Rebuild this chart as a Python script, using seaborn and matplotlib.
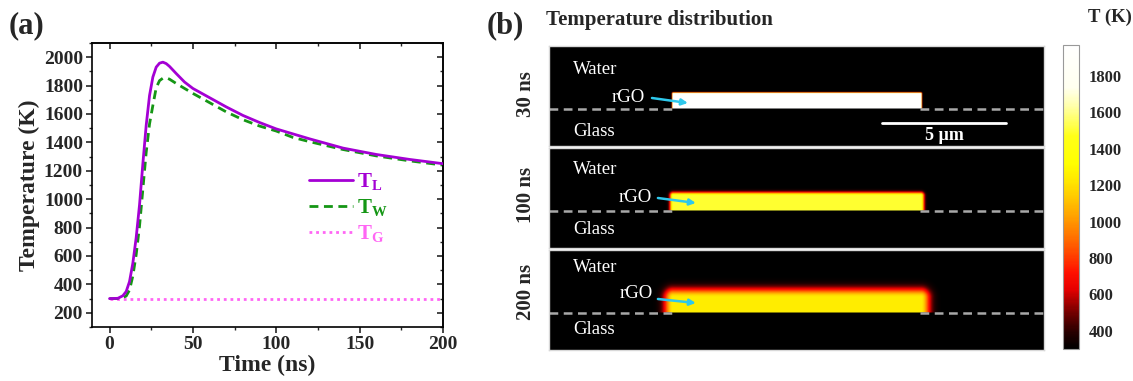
import numpy as np
import pandas as pd
import matplotlib
matplotlib.use("Agg")
import matplotlib.pyplot as plt
import seaborn as sns
from matplotlib.colors import LinearSegmentedColormap, Normalize
from matplotlib.ticker import MultipleLocator

# ---------------- data: panel (a) ----------------
time_ns = [0, 5, 8, 10, 12, 14, 16, 18, 20, 22, 24, 26, 28, 30, 32, 34, 36, 40, 45, 50,
           60, 70, 80, 90, 100, 110, 120, 140, 160, 180, 200]
T_L = [300, 302, 320, 350, 420, 550, 730, 960, 1250, 1520, 1730, 1860, 1930, 1958, 1965, 1955,
       1935, 1885, 1825, 1780, 1715, 1650, 1590, 1540, 1495, 1460, 1425, 1360, 1315, 1280, 1250]
T_W = [300, 300, 308, 318, 360, 460, 610, 810, 1070, 1330, 1530, 1660, 1785, 1835, 1852, 1855,
       1845, 1815, 1780, 1745, 1680, 1615, 1560, 1515, 1480, 1435, 1405, 1350, 1305, 1270, 1240]
time_G = [0, 200]
T_G = [300, 300]
series_labels = [r"T$_\mathregular{L}$", r"T$_\mathregular{W}$", r"T$_\mathregular{G}$"]
x_ticks = [0, 50, 100, 150, 200]
y_ticks = [200, 400, 600, 800, 1000, 1200, 1400, 1600, 1800, 2000]

# ---------------- data: panel (b) ----------------
time_labels = ["30 ns", "100 ns", "200 ns"]
slab_temp = [1960, 1500, 1250]        # K, temperature of the rGO film
halo_um = [0.04, 0.13, 0.36]          # thermal halo width in water (um)
slab_x_um = [5.0, 15.0]               # film extent (um)
slab_h_um = 0.6                       # film thickness (um)
domain_x_um = [0.0, 20.0]
domain_y_um = [-1.5, 2.5]
T_ambient = 300
T_max = 1970
cbar_ticks = [400, 600, 800, 1000, 1200, 1400, 1600, 1800]
scalebar_um = 5

# ---------------- style ----------------
sns.set_theme(style="ticks")
plt.rcParams["font.family"] = ["Liberation Serif", "DejaVu Serif"]
plt.rcParams["font.weight"] = "bold"
plt.rcParams["axes.labelweight"] = "bold"
plt.rcParams["axes.linewidth"] = 1.2

W, H = 1133, 381
fig = plt.figure(figsize=(W / 100, H / 100), dpi=100)

def fx(px):
    return px / W

def fy(py):
    return 1 - py / H

# ---------------- panel (a) ----------------
ax = fig.add_axes([fx(92), fy(327), fx(443) - fx(92), fy(43) - fy(327)])
col_L, col_W, col_G = "#A400D4", "#159615", "#FF66F4"
dfL = pd.DataFrame({"t": time_ns, "T": T_L})
dfW = pd.DataFrame({"t": time_ns, "T": T_W})
dfG = pd.DataFrame({"t": time_G, "T": T_G})
sns.lineplot(data=dfG, x="t", y="T", ax=ax, color=col_G, lw=2.0, linestyle=(0, (1, 1.4)),
             label=series_labels[2], zorder=1)
sns.lineplot(data=dfW, x="t", y="T", ax=ax, color=col_W, lw=2.0, linestyle=(0, (3.2, 2.0)),
             label=series_labels[1], zorder=2)
sns.lineplot(data=dfL, x="t", y="T", ax=ax, color=col_L, lw=2.0, label=series_labels[0],
             zorder=3)
ax.set_xlim(-10.5, 200)
ax.set_ylim(100, 2100)
ax.set_xticks(x_ticks)
ax.set_yticks(y_ticks)
ax.xaxis.set_minor_locator(MultipleLocator(25))
ax.yaxis.set_minor_locator(MultipleLocator(100))
ax.tick_params(which="major", direction="out", length=4.5, width=1.2, labelsize=14, pad=2)
ax.tick_params(which="minor", direction="out", length=2.5, width=1.0)
for lab in ax.get_xticklabels() + ax.get_yticklabels():
    lab.set_fontweight("bold")
ax.set_xlabel("Time (ns)", fontsize=17, fontweight="bold", labelpad=1)
ax.set_ylabel("Temperature (K)", fontsize=17, fontweight="bold", labelpad=3)
for s in ax.spines.values():
    s.set_visible(True)
    s.set_color("black")
    s.set_linewidth(1.2)

sx = ax.secondary_xaxis("top")
sx.set_xticks(x_ticks)
sx.xaxis.set_minor_locator(MultipleLocator(25))
sx.tick_params(which="major", direction="in", length=4.5, width=1.2, labeltop=False)
sx.tick_params(which="minor", direction="in", length=2.5, width=1.0)
sy = ax.secondary_yaxis("right")
sy.set_yticks(y_ticks)
sy.yaxis.set_minor_locator(MultipleLocator(100))
sy.tick_params(which="major", direction="in", length=4.5, width=1.2, labelright=False)
sy.tick_params(which="minor", direction="in", length=2.5, width=1.0)

handles, labels = ax.get_legend_handles_labels()
order = [labels.index(l) for l in series_labels]
leg = ax.legend([handles[i] for i in order], [labels[i] for i in order],
                loc="center left", bbox_to_anchor=((309 - 92) / 351, (327 - 208) / 284),
                frameon=False, borderpad=0, borderaxespad=0, handlelength=2.1,
                handletextpad=0.2, labelspacing=0.2, labelcolor="linecolor",
                prop={"size": 15, "weight": "bold", "family": "Liberation Serif"})

fig.text(fx(27), fy(26), "(a)", fontsize=22, fontweight="bold", ha="center", va="center")

# ---------------- panel (b) ----------------
cmap = LinearSegmentedColormap.from_list("tk", [
    (0.00, "#000000"), ((380 - 300) / 1670, "#220000"), ((480 - 300) / 1670, "#650000"),
    ((560 - 300) / 1670, "#A80000"), ((630 - 300) / 1670, "#E80000"),
    ((720 - 300) / 1670, "#FF1000"), ((820 - 300) / 1670, "#FF4400"),
    ((920 - 300) / 1670, "#FF7400"), ((1020 - 300) / 1670, "#FF9E00"),
    ((1120 - 300) / 1670, "#FFC400"), ((1220 - 300) / 1670, "#FFE600"),
    ((1320 - 300) / 1670, "#FFFF00"), ((1470 - 300) / 1670, "#FFFF18"),
    ((1560 - 300) / 1670, "#FFFF66"), ((1650 - 300) / 1670, "#FFFFB4"),
    ((1740 - 300) / 1670, "#FFFFF0"), (1.00, "#FFFFFF")])
norm = Normalize(vmin=T_ambient, vmax=T_max)

xs = np.linspace(domain_x_um[0], domain_x_um[1], 1000)
ys = np.linspace(domain_y_um[0], domain_y_um[1], 200)
X, Y = np.meshgrid(xs, ys)
dx = np.maximum(np.maximum(slab_x_um[0] - X, X - slab_x_um[1]), 0)
dy = np.maximum(Y - slab_h_um, 0)
dist = np.hypot(dx, dy)

panel_tops = [46, 148, 250]
water_y = [1.58, 1.66, 1.78]
glass_y = [-0.94, -0.78, -0.66]
rgo_pos = [(3.9, 0.42), (4.17, 0.5), (4.19, 0.78)]
arrows = [((4.17, 0.42), (5.62, 0.22)), ((4.41, 0.5), (5.94, 0.3)), ((4.41, 0.54), (5.94, 0.38))]
label_centers = [94, 195, 292]

im = None
for i, top in enumerate(panel_tops):
    axb = fig.add_axes([fx(548.7), fy(top + 100), fx(1044) - fx(548.7), 100 / H])
    field = T_ambient + (slab_temp[i] - T_ambient) * np.exp(-(dist / halo_um[i]) ** 2)
    field[Y < 0] = T_ambient
    im = axb.imshow(field, origin="lower", cmap=cmap, norm=norm, aspect="auto",
                    interpolation="bilinear",
                    extent=[domain_x_um[0], domain_x_um[1], domain_y_um[0], domain_y_um[1]])
    axb.plot([domain_x_um[0], slab_x_um[0]], [0, 0], color="#A8A8A8", lw=1.8,
             linestyle=(0, (3.5, 2.2)))
    axb.plot([slab_x_um[1], domain_x_um[1]], [0, 0], color="#A8A8A8", lw=1.8,
             linestyle=(0, (3.5, 2.2)))
    axb.set_xlim(domain_x_um)
    axb.set_ylim(domain_y_um)
    axb.set_xticks([])
    axb.set_yticks([])
    for s in axb.spines.values():
        s.set_color("#D8D8D8")
        s.set_linewidth(1.0)
    axb.text(0.98, water_y[i], "Water", color="white", fontsize=13.5, fontweight="normal",
             ha="left", va="center")
    axb.text(0.98, glass_y[i], "Glass", color="white", fontsize=13.5, fontweight="normal",
             ha="left", va="center")
    axb.text(rgo_pos[i][0], rgo_pos[i][1], "rGO", color="white", fontsize=13.5,
             fontweight="normal", ha="right", va="center")
    (x0, y0), (x1, y1) = arrows[i]
    axb.annotate("", xy=(x1, y1), xytext=(x0, y0),
                 arrowprops=dict(arrowstyle="-|>", color="#2EC8EC", lw=1.8,
                                 mutation_scale=9, shrinkA=0, shrinkB=0))
    fig.text(fx(526), fy(label_centers[i]), time_labels[i], rotation=90, fontsize=15,
             fontweight="bold", ha="center", va="center")
    if i == 0:
        axb.plot([13.46, 13.46 + scalebar_um], [-0.58, -0.58], color="white", lw=2)
        axb.text(13.46 + scalebar_um / 2, -1.06, f"{scalebar_um} µm", color="white",
                 fontsize=13, fontweight="bold", ha="center", va="center")

fig.text(fx(505), fy(26), "(b)", fontsize=22, fontweight="bold", ha="center", va="center")
fig.text(fx(546), fy(20), "Temperature distribution", fontsize=15, fontweight="bold",
         ha="left", va="center")

cax = fig.add_axes([fx(1063), fy(349), fx(1079) - fx(1063), (349 - 45) / H])
cb = fig.colorbar(im, cax=cax, ticks=cbar_ticks)
cb.outline.set_edgecolor("#999999")
cb.outline.set_linewidth(0.8)
cax.tick_params(direction="in", length=3, width=0.8, color="#AAAAAA", left=True, right=True,
                labelsize=12, pad=7)
for lab in cax.get_yticklabels():
    lab.set_fontweight("bold")
fig.text(fx(1110), fy(17), "T (K)", fontsize=13.5, fontweight="bold", ha="center",
         va="center")

fig.savefig("out.png", dpi=100)
